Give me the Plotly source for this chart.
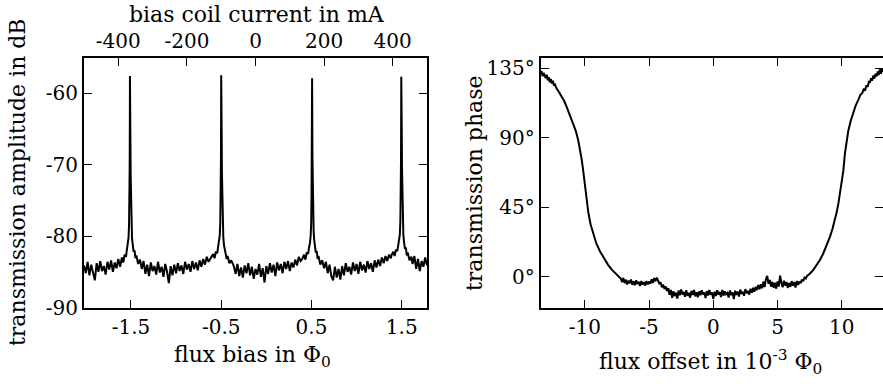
import plotly.graph_objects as go

# ---------------- left panel: transmission amplitude vs flux bias ----------------
flux_bias = [
    -2.02, -2.00, -1.98, -1.96, -1.94, -1.92, -1.90, -1.88, -1.86, -1.84,
    -1.82, -1.80, -1.78, -1.76, -1.74, -1.72, -1.70, -1.68, -1.66, -1.64,
    -1.62, -1.60, -1.585, -1.57, -1.555, -1.545, -1.535, -1.527, -1.521, -1.517,
    -1.514, -1.512, -1.511, -1.508, -1.506, -1.503, -1.499, -1.494, -1.488, -1.48,
    -1.47, -1.46, -1.45, -1.44, -1.42, -1.40,
    -1.38, -1.36, -1.34, -1.32, -1.30, -1.28, -1.26, -1.24, -1.22, -1.20,
    -1.18, -1.16, -1.14, -1.12, -1.10, -1.08, -1.06, -1.04, -1.02, -1.00,
    -0.98, -0.96, -0.94, -0.92, -0.90, -0.88, -0.86, -0.84, -0.82, -0.80,
    -0.78, -0.76, -0.74, -0.72, -0.70, -0.68, -0.66, -0.64,
    -0.609, -0.589, -0.574, -0.559, -0.544, -0.534, -0.524, -0.516, -0.510, -0.506,
    -0.503, -0.501, -0.500, -0.498, -0.495, -0.492, -0.488, -0.483, -0.477, -0.469,
    -0.459, -0.449, -0.439, -0.429, -0.409, -0.389,
    -0.36, -0.34, -0.32, -0.30, -0.28, -0.26, -0.24, -0.22, -0.20, -0.18,
    -0.16, -0.14, -0.12, -0.10, -0.08, -0.06, -0.04, -0.02, 0.00, 0.02,
    0.04, 0.06, 0.08, 0.10, 0.12, 0.14, 0.16, 0.18, 0.20, 0.22,
    0.24, 0.26, 0.28, 0.30, 0.32, 0.34, 0.36, 0.38,
    0.398, 0.418, 0.433, 0.448, 0.463, 0.473, 0.483, 0.491, 0.497, 0.501,
    0.503, 0.504, 0.507, 0.509, 0.511, 0.514, 0.518, 0.524, 0.530, 0.538,
    0.548, 0.558, 0.568, 0.578, 0.598, 0.618,
    0.64, 0.66, 0.68, 0.70, 0.72, 0.74, 0.76, 0.78, 0.80, 0.82,
    0.84, 0.86, 0.88, 0.90, 0.92, 0.94, 0.96, 0.98, 1.00, 1.02,
    1.04, 1.06, 1.08, 1.10, 1.12, 1.14, 1.16, 1.18, 1.20, 1.22,
    1.24, 1.26, 1.28, 1.30, 1.32, 1.34, 1.36, 1.38,
    1.386, 1.406, 1.421, 1.436, 1.451, 1.461, 1.471, 1.479, 1.485, 1.489,
    1.492, 1.494, 1.495, 1.498, 1.500, 1.503, 1.507, 1.512, 1.518, 1.526,
    1.536, 1.546, 1.556, 1.566, 1.586, 1.606,
    1.62, 1.64, 1.66, 1.68, 1.70, 1.72, 1.74, 1.76, 1.78,
]
amplitude_db = [
    -84.1, -85.2, -83.6, -85.5, -84.0, -85.3, -86.2, -83.8, -85.0, -83.5,
    -84.9, -84.2, -85.4, -83.6, -84.7, -83.4, -85.0, -83.7, -84.5, -83.2,
    -84.3, -83.0, -83.7, -82.6, -82.9, -81.9, -81.2, -80.3, -78.5, -75.5,
    -70.5, -64.0, -57.6, -60.8, -66.0, -71.5, -75.5, -78.6, -80.3, -81.2,
    -82.2, -82.0, -83.1, -82.7, -83.9, -83.3,
    -84.6, -83.5, -85.3, -84.0, -85.6, -83.7, -84.9, -84.2, -85.4, -83.6,
    -85.1, -84.3, -85.7, -83.9, -85.0, -86.6, -84.2, -85.5, -84.0, -85.2,
    -83.8, -84.9, -84.1, -85.3, -83.6, -84.7, -83.9, -85.0, -83.5, -84.6,
    -83.7, -84.8, -83.4, -84.3, -83.2, -84.0, -82.9, -83.6,
    -83.0, -82.5, -83.1, -82.2, -82.4, -81.5, -80.9, -79.9, -78.0, -74.8,
    -69.5, -62.5, -57.5, -58.3, -65.0, -71.0, -75.2, -78.5, -80.1, -81.3,
    -82.0, -82.5, -83.2, -82.8, -83.8, -83.4,
    -84.2, -85.3, -83.9, -85.6, -84.4, -85.8, -84.1, -85.2, -83.8, -85.5,
    -84.3, -86.0, -84.6, -85.4, -83.9, -85.7, -84.5, -86.5, -84.2, -85.3,
    -83.8, -85.1, -84.0, -85.6, -83.7, -84.8, -83.9, -85.2, -83.6, -84.6,
    -83.5, -84.9, -83.7, -84.4, -83.3, -84.1, -82.9, -83.5,
    -83.2, -82.6, -83.3, -82.3, -82.5, -81.6, -81.0, -80.0, -78.2, -74.0,
    -68.0, -60.1, -57.9, -63.5, -69.0, -73.8, -77.0, -79.3, -80.5, -81.4,
    -82.3, -82.1, -83.2, -82.8, -84.0, -83.4,
    -84.5, -83.6, -85.2, -84.0, -85.6, -86.2, -84.3, -85.8, -84.6, -86.1,
    -84.2, -85.5, -83.8, -85.0, -84.3, -85.4, -83.7, -84.9, -83.9, -85.3,
    -83.6, -84.8, -84.0, -85.1, -83.5, -84.6, -83.8, -85.0, -83.4, -84.4,
    -83.3, -84.2, -83.0, -83.8, -82.8, -83.5, -82.6, -83.1,
    -82.7, -82.2, -82.8, -81.9, -82.1, -81.3, -80.7, -79.8, -77.9, -74.5,
    -69.5, -62.5, -57.7, -58.3, -64.5, -70.5, -74.8, -78.0, -79.8, -80.9,
    -81.8, -81.6, -82.7, -82.3, -83.4, -82.9,
    -83.9, -82.8, -84.6, -83.2, -84.9, -83.5, -84.3, -83.0, -84.1,
]

# tick labels
flux_ticks = [-1.5, -0.5, 0.5, 1.5]
flux_ticktext = ["-1.5", "-0.5", "0.5", "1.5"]
current_ticks = [-400, -200, 0, 200, 400]
current_ticktext = ["-400", "-200", "0", "200", "400"]
amp_ticks = [-90, -80, -70, -60]
amp_ticktext = ["-90", "-80", "-70", "-60"]

# ---------------- right panel: transmission phase vs flux offset ----------------
flux_offset = [
    -13.43, -13.36, -13.28, -13.20, -13.12, -13.04, -12.96, -12.88, -12.80, -12.72,
    -12.64, -12.56, -12.48, -12.40, -12.32, -12.20, -12.00, -11.80, -11.60, -11.41,
    -11.20, -11.00, -10.89, -10.70, -10.51, -10.38, -10.24, -10.12, -9.98, -9.86,
    -9.73, -9.55, -9.34, -9.10, -8.82, -8.50, -8.20, -7.90, -7.60, -7.30,
    -7.2, -7.1, -7.0, -6.9, -6.8, -6.7, -6.6, -6.5, -6.4, -6.3,
    -6.2, -6.1, -6.0, -5.9, -5.8, -5.7, -5.6, -5.5, -5.4, -5.3,
    -5.2, -5.1, -5.0, -4.9, -4.8, -4.7, -4.6, -4.5, -4.4, -4.3,
    -4.2, -4.1, -4.0, -3.9, -3.8, -3.7, -3.6, -3.5, -3.4, -3.3,
    -3.2, -3.1, -3.0, -2.9, -2.8, -2.7, -2.6, -2.5, -2.4, -2.3,
    -2.2, -2.1, -2.0, -1.9, -1.8, -1.7, -1.6, -1.5, -1.4, -1.3,
    -1.2, -1.1, -1.0, -0.9, -0.8, -0.7, -0.6, -0.5, -0.4, -0.3,
    -0.2, -0.1, 0.0, 0.1, 0.2, 0.3, 0.4, 0.5, 0.6, 0.7,
    0.8, 0.9, 1.0, 1.1, 1.2, 1.3, 1.4, 1.5, 1.6, 1.7,
    1.8, 1.9, 2.0, 2.1, 2.2, 2.3, 2.4, 2.5, 2.6, 2.7,
    2.8, 2.9, 3.0, 3.1, 3.2, 3.3, 3.4, 3.5, 3.6, 3.7,
    3.8, 3.9, 4.0, 4.1, 4.2, 4.3, 4.4, 4.5, 4.6, 4.7,
    4.8, 4.9, 5.0, 5.1, 5.2, 5.3, 5.4, 5.5, 5.6, 5.7,
    5.8, 5.9, 6.0, 6.1, 6.2, 6.3, 6.4, 6.5, 6.6, 6.7,
    6.8, 6.9, 7.0, 7.1, 7.2,
    7.30, 7.55, 7.80, 8.05, 8.30, 8.56, 8.82, 9.08, 9.28, 9.47,
    9.60, 9.73, 9.86, 9.99, 10.12, 10.25, 10.38, 10.51, 10.70, 10.89,
    11.08, 11.28, 11.45, 11.60, 11.72, 11.81, 11.92, 12.02, 12.12, 12.19,
    12.28, 12.36, 12.45, 12.54, 12.63, 12.72, 12.80, 12.88, 12.96, 13.04,
    13.12, 13.20,
]
phase_deg = [
    131.5, 133.2, 129.8, 132.0, 130.4, 128.6, 130.8, 127.3, 129.2, 126.0,
    128.1, 125.2, 126.9, 123.8, 124.5, 122.0, 119.5, 116.8, 113.8, 110.0,
    105.5, 101.5, 99.3, 94.5, 88.4, 83.0, 76.0, 68.5, 58.0, 50.0,
    42.0, 34.0, 27.5, 21.5, 16.5, 11.5, 7.8, 4.5, 2.0, 0.0,
    -1.2, -3.5, -0.8, -4.2, -2.0, -5.1, -2.6, -4.4, -1.9, -5.3,
    -3.0, -5.6, -2.4, -4.8, -3.3, -6.0, -2.8, -5.2, -3.6, -5.8,
    -2.9, -5.0, -3.2, -4.6, -1.8, -4.1, -0.9, -3.0, -0.6, -2.5,
    -4.8, -3.6, -6.9, -5.2, -8.0, -6.4, -9.3, -7.5, -11.8, -8.6,
    -13.8, -9.5, -12.6, -10.4, -14.2, -9.0, -12.1, -8.3, -11.6, -10.0,
    -13.1, -8.8, -12.4, -10.5, -13.6, -9.2, -11.9, -8.6, -12.8, -10.1,
    -13.4, -9.6, -12.0, -8.9, -11.5, -10.3, -13.9, -9.4, -12.2, -8.7,
    -11.8, -10.2, -14.3, -9.8, -12.5, -8.8, -11.7, -9.9, -13.2, -8.6,
    -12.3, -9.5, -11.4, -10.6, -13.5, -8.9, -12.0, -10.2, -14.5, -9.1,
    -11.8, -9.7, -12.9, -8.4, -11.2, -9.9, -12.4, -8.1, -10.8, -9.3,
    -11.6, -7.9, -10.4, -7.2, -9.8, -6.6, -8.7, -5.4, -8.2, -4.9,
    -7.5, -3.2, -6.8, -1.5, 0.4, -4.6, -2.2, -6.5, -3.4, -7.2,
    -4.0, -7.8, -3.1, -6.4, 0.6, -3.8, -6.9, -2.7, -5.8, -3.5,
    -7.3, -4.1, -6.6, -2.9, -5.9, -3.6, -7.0, -2.8, -5.4, -3.2,
    -4.3, -1.9, -3.0, -0.6, -1.2,
    0.5, 2.2, 4.6, 7.5, 10.8, 15.0, 20.0, 25.8, 31.0, 36.8,
    41.5, 47.0, 53.5, 60.3, 68.5, 80.0, 88.5, 94.5, 101.0, 106.0,
    110.8, 114.4, 117.8, 119.0, 121.8, 120.5, 124.0, 123.0, 126.8, 125.6,
    128.5, 127.0, 130.2, 128.3, 131.5, 129.8, 133.0, 130.6, 134.2, 131.5,
    134.8, 132.5,
]
offset_ticks = [-10, -5, 0, 5, 10]
offset_ticktext = ["-10", "-5", "0", "5", "10"]
phase_ticks = [0, 45, 90, 135]
phase_ticktext = ["0°", "45°", "90°", "135°"]

# ---------------- figure ----------------
W, H = 883, 384
FONT = "DejaVu Serif"
TICK = 20
TITLE = 22


def px(x):
    return x / W


def py(y):
    return 1 - y / H


ydom = [py(307.5), py(57.5)]
left_dom = [px(84), px(427)]
right_dom = [px(540.7), 1.0]

fig = go.Figure()
fig.add_trace(go.Scatter(x=flux_bias, y=amplitude_db, mode="lines",
                         line=dict(color="black", width=2), xaxis="x", yaxis="y",
                         showlegend=False, hoverinfo="skip"))
# empty trace to host the top (current) axis
fig.add_trace(go.Scatter(x=[], y=[], xaxis="x3", yaxis="y", showlegend=False))
fig.add_trace(go.Scatter(x=flux_offset, y=phase_deg, mode="lines",
                         line=dict(color="black", width=2), xaxis="x2", yaxis="y2",
                         showlegend=False, hoverinfo="skip"))
# empty trace to host the right-side phase ticks
fig.add_trace(go.Scatter(x=[], y=[], xaxis="x2", yaxis="y4", showlegend=False))

axis_common = dict(showline=True, linecolor="black", linewidth=2, ticks="inside",
                   ticklen=8, tickwidth=1.3, tickcolor="black", showgrid=False,
                   zeroline=False, automargin=False,
                   tickfont=dict(family=FONT, size=TICK, color="black"))

fig.update_layout(
    template="none",
    width=W, height=H,
    margin=dict(l=0, r=0, t=0, b=0, autoexpand=False),
    paper_bgcolor="white", plot_bgcolor="white",
    font=dict(family=FONT, color="black"),
    xaxis=dict(domain=left_dom, anchor="y", range=[-2.02, 1.78],
               tickmode="array", tickvals=flux_ticks, ticktext=flux_ticktext,
               **axis_common),
    xaxis3=dict(overlaying="x", side="top", anchor="y", range=[-500, 500],
                tickmode="array", tickvals=current_ticks, ticktext=current_ticktext,
                **axis_common),
    yaxis=dict(domain=ydom, anchor="x", range=[-90, -55], mirror="ticks",
               tickmode="array", tickvals=amp_ticks, ticktext=amp_ticktext,
               **axis_common),
    xaxis2=dict(domain=right_dom, anchor="y2", range=[-13.43, 13.21], mirror="ticks",
                tickmode="array", tickvals=offset_ticks, ticktext=offset_ticktext,
                **axis_common),
    yaxis2=dict(domain=ydom, anchor="x2", range=[-20, 142],
                tickmode="array", tickvals=phase_ticks, ticktext=phase_ticktext,
                **axis_common),
    yaxis4=dict(overlaying="y2", side="right", anchor="x2", range=[-20, 142],
                tickmode="array", tickvals=phase_ticks, showticklabels=False,
                ticks="inside", ticklen=8, tickwidth=1.3, tickcolor="black",
                showline=False, showgrid=False, zeroline=False, automargin=False),
)

tf = dict(family=FONT, size=TITLE, color="black")
ann = [
    dict(text="bias coil current in mA", x=px(256.5), y=py(0), yanchor="top"),
    dict(text="flux bias in Φ<sub>0</sub>", x=px(252), y=py(356), yanchor="middle"),
    dict(text="transmission amplitude in dB", x=px(18), y=py(182), yanchor="middle",
         textangle=-90),
    dict(text="transmission phase", x=px(474), y=py(183), yanchor="middle",
         textangle=-90),
    dict(text="flux offset in 10<sup>-3</sup> Φ<sub>0</sub>", x=px(710), y=py(362),
         yanchor="middle"),
]
for a in ann:
    fig.add_annotation(xref="paper", yref="paper", showarrow=False,
                       xanchor="center", font=tf, **a)

# the page body would otherwise add an 8 px margin around the figure
fig.write_html("out.html", config={"displayModeBar": False},
               post_script="document.body.style.margin='0px';")
